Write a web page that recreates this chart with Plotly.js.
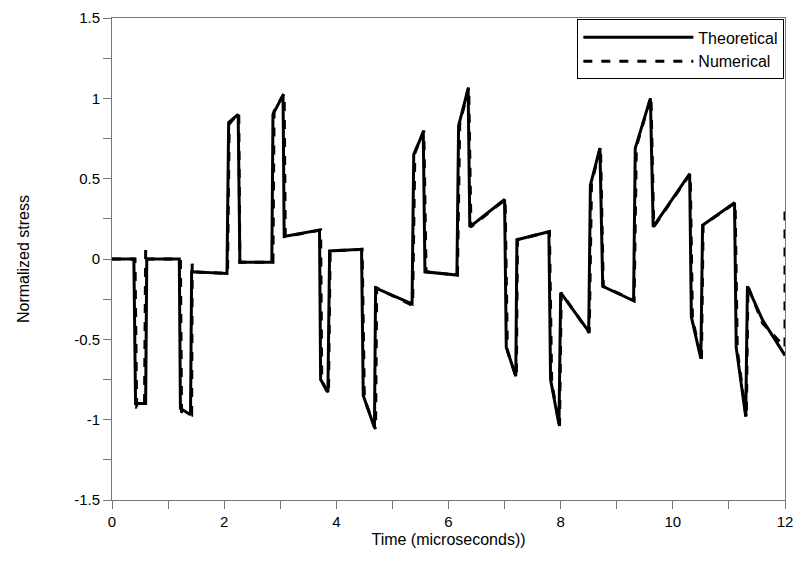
<!DOCTYPE html>
<html><head><meta charset="utf-8">
<script src="https://cdn.plot.ly/plotly-3.0.1.min.js"></script>
<style>body{margin:0}</style></head>
<body><div id="myPlot" style="width:798px;height:578px"></div>
<script>
// theoretical curve
let xTheo=[0,0.39,0.42,0.6,0.62,1.2,1.22,1.4,1.42,2.05,2.08,2.25,2.28,2.85,2.87,3.05,3.07,3.7,3.72,3.85,3.88,4.45,4.48,4.68,4.7,5.35,5.38,5.55,5.58,6.15,6.18,6.35,6.38,7.0,7.03,7.2,7.22,7.79,7.82,7.97,8.0,8.5,8.53,8.7,8.75,9.3,9.33,9.6,9.65,10.3,10.33,10.5,10.53,11.1,11.13,11.3,11.33,11.6,12]
let yTheo=[0,0,-0.9,-0.9,0,0,-0.93,-0.97,-0.08,-0.09,0.85,0.9,-0.02,-0.02,0.9,1.02,0.14,0.18,-0.75,-0.83,0.05,0.06,-0.85,-1.05,-0.18,-0.28,0.65,0.79,-0.08,-0.1,0.83,1.06,0.2,0.37,-0.55,-0.73,0.12,0.17,-0.75,-1.03,-0.21,-0.45,0.46,0.69,-0.17,-0.26,0.69,1.0,0.2,0.53,-0.36,-0.62,0.21,0.35,-0.55,-0.98,-0.17,-0.38,-0.6]
// numerical curve
let xNum=[0,0.41,0.44,0.58,0.6,0.62,1.22,1.24,1.42,1.43,1.45,2.06,2.09,2.26,2.28,2.87,2.89,3.07,3.09,3.72,3.74,3.86,3.89,4.46,4.5,4.7,4.72,5.36,5.4,5.56,5.6,6.16,6.2,6.36,6.4,7.01,7.05,7.21,7.23,7.8,7.84,7.98,8.01,8.51,8.55,8.71,8.76,9.31,9.35,9.61,9.66,10.31,10.35,10.51,10.54,11.11,11.15,11.31,11.34,11.6,12,12]
let yNum=[0,0,-0.92,-0.9,0.06,0,0,-0.95,-0.97,-0.03,-0.08,-0.09,0.84,0.91,-0.02,-0.02,0.92,1.03,0.14,0.18,-0.76,-0.84,0.05,0.06,-0.87,-1.06,-0.18,-0.29,0.66,0.8,-0.08,-0.1,0.84,1.07,0.2,0.37,-0.57,-0.74,0.12,0.17,-0.77,-1.04,-0.21,-0.46,0.47,0.7,-0.17,-0.26,0.7,1.01,0.2,0.53,-0.37,-0.63,0.21,0.35,-0.57,-0.99,-0.17,-0.4,-0.55,0.32]
// y tick labels (plain hyphen minus)
let yTicks=[-1.5,-1,-0.5,0,0.5,1,1.5]
let yLabels=['-1.5','-1','-0.5','0','0.5','1','1.5']

let data=[
  {x:xTheo,y:yTheo,mode:'lines',name:'Theoretical',line:{color:'black',width:3}},
  {x:xNum,y:yNum,mode:'lines',name:'Numerical',line:{color:'black',width:3,dash:'dash'}}
]
let ax={showgrid:false,zeroline:false,showline:true,mirror:true,linecolor:'#777',linewidth:1,
  ticks:'outside',ticklen:8,tickcolor:'#777',tickfont:{size:15,color:'black'}}
let layout={
  width:798,height:578,margin:{l:112,r:13,t:18,b:78},
  paper_bgcolor:'white',plot_bgcolor:'white',
  font:{family:'Liberation Sans, Arial, sans-serif',color:'black'},
  xaxis:Object.assign({},ax,{range:[0,12],dtick:2,minor:{dtick:1,ticks:'outside',ticklen:8,tickcolor:'#777'},
    title:{text:'Time (microseconds))',font:{size:16},standoff:4}}),
  yaxis:Object.assign({},ax,{range:[-1.5,1.5],tickmode:'array',tickvals:yTicks,ticktext:yLabels,
    minor:{tickmode:'linear',tick0:0,dtick:0.25,ticks:'outside',ticklen:8,tickcolor:'#777'},
    title:{text:'Normalized stress',font:{size:16},standoff:40}}),
  showlegend:true,
  legend:{x:0.999,y:0.997,xanchor:'right',yanchor:'top',bordercolor:'black',borderwidth:1,bgcolor:'white',
    font:{size:16},itemwidth:110,tracegroupgap:0}
}
Plotly.newPlot('myPlot',data,layout,{displayModeBar:false})
</script></body></html>
